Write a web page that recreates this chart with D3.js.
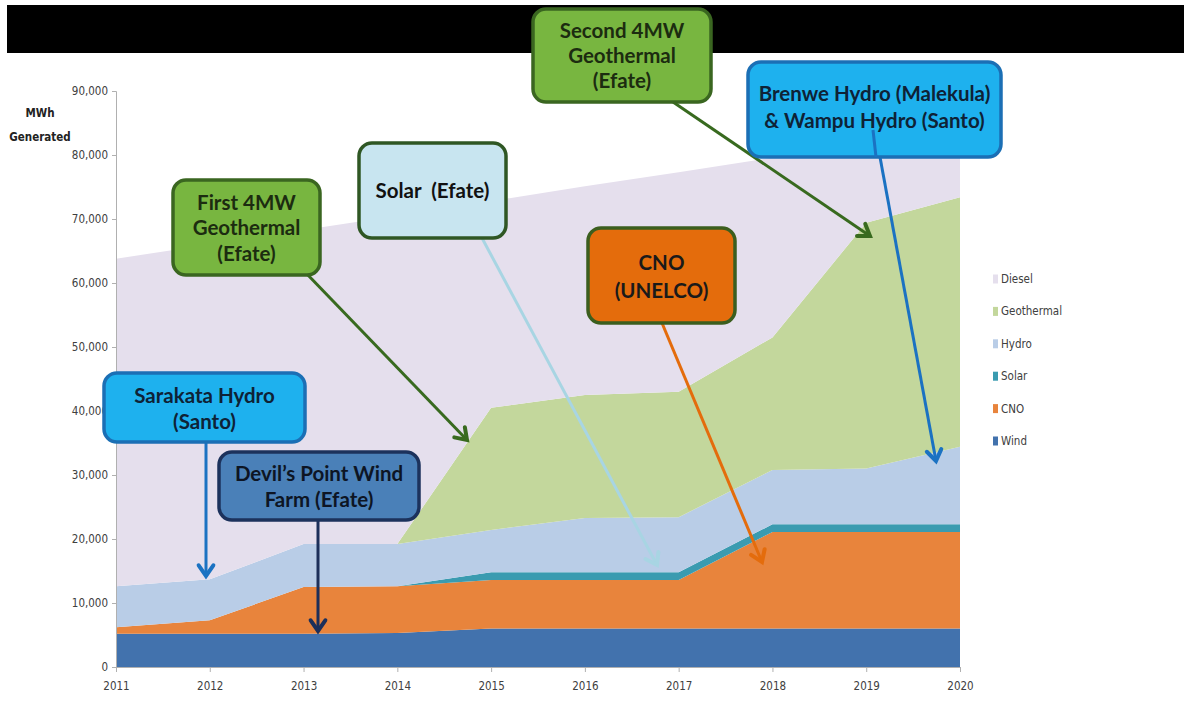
<!DOCTYPE html>
<html><head><meta charset="utf-8">
<script src="https://cdn.jsdelivr.net/npm/d3@7"></script>
<style>
body{margin:0;background:#fff;}
svg{display:block;}
.ax text{font-family:"DejaVu Sans Condensed","DejaVu Sans",sans-serif;font-stretch:condensed;font-size:11.5px;fill:#404040;}
.box text{font-family:Lato,"Open Sans",sans-serif;font-weight:bold;font-size:20.5px;white-space:pre;}
.ytitle{font-family:"DejaVu Sans Condensed","DejaVu Sans",sans-serif;font-stretch:condensed;font-weight:bold;font-size:11.5px;fill:#222;}
</style></head>
<body>
<svg id="c" width="1190" height="704"></svg>
<script>
const years = [2011,2012,2013,2014,2015,2016,2017,2018,2019,2020];
const wind       = [5200,5200,5200,5300,6000,6000,6000,6000,6000,6000];
const cno        = [1000,2100,7300,7300,7600,7600,7600,15100,15100,15100];
const solar      = [0,0,0,0,1200,1200,1200,1200,1200,1200];
const hydro      = [6400,6400,6700,6600,6600,8500,8600,8500,8700,12100];
const geothermal = [0,0,0,0,19100,19200,19600,20700,38400,39000];
const diesel     = [51200,52300,49100,51300,32300,32600,34300,28100,12500,10700];
const seriesNames = ["Wind","CNO","Solar","Hydro","Geothermal","Diesel"];
const yTicks = [0,10000,20000,30000,40000,50000,60000,70000,80000,90000];
const legendOrder = ["Diesel","Geothermal","Hydro","Solar","CNO","Wind"];

const colors = {Wind:"#4272ad",CNO:"#e8843c",Solar:"#3a9bb0",Hydro:"#b9cde7",Geothermal:"#c3d79c",Diesel:"#e5dfed"};
const seriesData = {Wind:wind,CNO:cno,Solar:solar,Hydro:hydro,Geothermal:geothermal,Diesel:diesel};
const rows = years.map((y,i)=>{const r={year:y};seriesNames.forEach(k=>r[k]=seriesData[k][i]);return r;});

const svg = d3.select("#c");
svg.append("rect").attr("x",7).attr("y",5).attr("width",1177).attr("height",48).attr("fill","#000");

const x = d3.scaleLinear().domain([2011,2020]).range([116,960]);
const y = d3.scaleLinear().domain([0,90000]).range([667,91]);

const stack = d3.stack().keys(seriesNames)(rows);
const area = d3.area().x(d=>x(d.data.year)).y0(d=>y(d[0])).y1(d=>y(d[1]));
svg.append("g").selectAll("path").data(stack).join("path")
  .attr("d",area).attr("fill",d=>colors[d.key]);

const yAxis = svg.append("g").attr("class","ax").attr("transform","translate(116,0)")
  .call(d3.axisLeft(y).tickValues(yTicks).tickFormat(d3.format(",")).tickSize(4).tickPadding(4));
const xAxis = svg.append("g").attr("class","ax").attr("transform","translate(0,667)")
  .call(d3.axisBottom(x).tickValues(years).tickFormat(d3.format("d")).tickSize(5).tickPadding(8));
svg.selectAll(".ax path, .ax line").attr("stroke","#b0b0b0");
xAxis.selectAll("text").attr("dy","0.9em");

svg.append("text").attr("class","ytitle").attr("x",40).attr("y",117).attr("text-anchor","middle").text("MWh");
svg.append("text").attr("class","ytitle").attr("x",40).attr("y",141).attr("text-anchor","middle").text("Generated");

const lg = svg.append("g").attr("class","ax");
legendOrder.forEach((k,i)=>{
  const cy = 279 + i*32.4;
  lg.append("rect").attr("x",993).attr("y",cy-4.5).attr("width",5).attr("height",9).attr("fill",colors[k]);
  lg.append("text").attr("x",1001).attr("y",cy).attr("dy","0.35em").text(k);
});

function arrow(x1,y1,x2,y2,col,w){
  const ang = Math.atan2(y2-y1,x2-x1);
  const L=13, a=0.6;
  svg.append("line").attr("x1",x1).attr("y1",y1).attr("x2",x2).attr("y2",y2)
    .attr("stroke",col).attr("stroke-width",w);
  const p = [[x2-L*Math.cos(ang-a),y2-L*Math.sin(ang-a)],[x2,y2],[x2-L*Math.cos(ang+a),y2-L*Math.sin(ang+a)]];
  svg.append("path").attr("d","M"+p.map(q=>q.join(",")).join("L"))
    .attr("fill","none").attr("stroke",col).attr("stroke-width",w+1).attr("stroke-linejoin","miter").attr("stroke-linecap","round");
}

const boxes = [
  {x:533,y:9,w:178,h:93,fill:"#78b640",stroke:"#3a6620",tc:"#1c2c10",lines:["Second 4MW","Geothermal","(Efate)"],ly:[31,56,81]},
  {x:748,y:62,w:253,h:95,fill:"#1eb1ee",stroke:"#1b6fb5",tc:"#0e2236",lines:["Brenwe Hydro (Malekula)","& Wampu Hydro (Santo)"],ly:[94,121]},
  {x:359,y:143,w:147,h:95,fill:"#c8e5f0",stroke:"#2f5724",tc:"#111",lines:["Solar  (Efate)"],ly:[191]},
  {x:173,y:180,w:147,h:95,fill:"#78b640",stroke:"#3a6620",tc:"#1c2c10",lines:["First 4MW","Geothermal","(Efate)"],ly:[203,228,254]},
  {x:588,y:228,w:147,h:95,fill:"#e46c0c",stroke:"#3b5e1e",tc:"#1a1a1a",lines:["CNO","(UNELCO)"],ly:[263,291]},
  {x:104,y:373,w:201,h:69,fill:"#1eb1ee",stroke:"#1b6fb5",tc:"#0e2236",lines:["Sarakata Hydro","(Santo)"],ly:[396,422]},
  {x:219,y:452,w:200,h:68,fill:"#4a80b8",stroke:"#1c325c",tc:"#0d1524",lines:["Devil\u2019s Point Wind","Farm (Efate)"],ly:[474,500]}
];

arrow(673,102,870,236,"#386a1f",3);
arrow(875,130,936,461,"#1b72c2",3);
arrow(482,238,657,565,"#a8d5e3",3);
arrow(305,272,467,440,"#386a1f",3);
arrow(662,323,762,562,"#e46c0c",3);
arrow(206,442,206,576,"#1b72c2",3);
arrow(318,520,318,631,"#1c2f5a",3);

const bg = svg.append("g").attr("class","box");
boxes.forEach(b=>{
  const g = bg.append("g");
  g.append("rect").attr("x",b.x).attr("y",b.y).attr("width",b.w).attr("height",b.h)
    .attr("rx",13).attr("ry",13).attr("fill",b.fill).attr("stroke",b.stroke).attr("stroke-width",3.5);
  b.lines.forEach((t,i)=>{
    g.append("text").attr("x",b.x+b.w/2).attr("y",b.ly[i]).attr("dy","0.35em").attr("text-anchor","middle")
      .attr("fill",b.tc).attr("xml:space","preserve").text(t);
  });
});
svg.append("line").attr("x1",873).attr("y1",130).attr("x2",876).attr("y2",157).attr("stroke","#1b72c2").attr("stroke-width",3);
</script>
</body></html>
